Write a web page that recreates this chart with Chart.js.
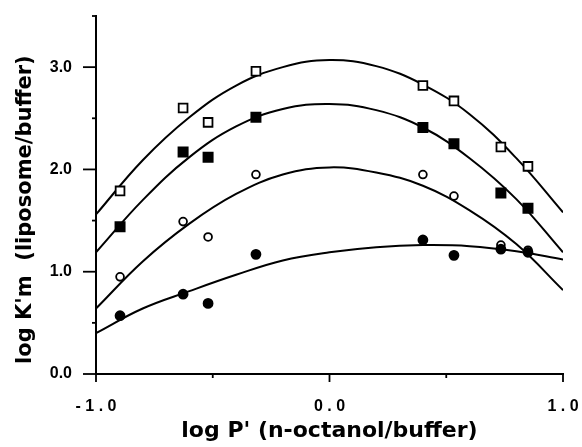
<!DOCTYPE html>
<html>
<head>
<meta charset="utf-8">
<script src="https://cdn.jsdelivr.net/npm/chart.js@4"></script>
<style>
  html, body { margin: 0; padding: 0; background: #fff; }
  #wrap { width: 582px; height: 447px; }
</style>
</head>
<body>
<div id="wrap"><canvas id="js--chart"></canvas></div>
<script>
// measured points (log P', log K'm)
const pointX = [-0.897, -0.627, -0.520, -0.315, 0.400, 0.533, 0.734, 0.850];
const openSquares = [1.79, 2.60, 2.46, 2.96, 2.82, 2.67, 2.22, 2.03];
const filledSquares = [1.44, 2.17, 2.12, 2.51, 2.41, 2.25, 1.77, 1.62];
const openCircles = [0.95, 1.49, 1.34, 1.95, 1.95, 1.74, 1.26, 1.21];
const filledCircles = [0.57, 0.78, 0.69, 1.17, 1.31, 1.16, 1.22, 1.19];

// fitted curves
const curveX = [-1.0, -0.8, -0.6, -0.4, -0.2, 0.0, 0.2, 0.4, 0.6, 0.8, 1.0];
const curveOpenSq = [1.56, 2.09, 2.51, 2.82, 3.00, 3.07, 3.01, 2.83, 2.54, 2.11, 1.58];
const curveFilledSq = [1.19, 1.70, 2.12, 2.42, 2.59, 2.64, 2.58, 2.41, 2.11, 1.71, 1.19];
const curveOpenCirc = [0.64, 1.10, 1.47, 1.76, 1.95, 2.02, 1.97, 1.84, 1.60, 1.27, 0.82];
const curveFilledCirc = [0.40, 0.64, 0.81, 0.97, 1.11, 1.19, 1.24, 1.26, 1.25, 1.20, 1.12];

const xLabels = [-1.0, 0.0, 1.0];
const yLabels = [0.0, 1.0, 2.0, 3.0];

function pairs(xs, ys) {
    return xs.map((x, i) => ({x: x, y: ys[i]}));
}

function pointSet(ys, style, radius, fill) {
    return {
        data: pairs(pointX, ys),
        showLine: false,
        pointStyle: style,
        pointRadius: radius,
        pointBackgroundColor: fill,
        pointBorderColor: "#000",
        pointBorderWidth: 1.8,
    };
}

function curveSet(ys) {
    return {
        data: pairs(curveX, ys),
        showLine: true,
        pointRadius: 0,
        borderColor: "#000",
        borderWidth: 2,
        tension: 0.4,
        fill: false,
    };
}

// tick marks: long at labelled values, short in between
const tickMarks = {
    id: "tickMarks",
    afterDraw(chart) {
        const ctx = chart.ctx;
        const xs = chart.scales.x;
        const ys = chart.scales.y;
        ctx.save();
        ctx.strokeStyle = "#000";
        ctx.lineWidth = 1.8;
        xs.ticks.forEach((t, i) => {
            const px = xs.getPixelForTick(i);
            const len = xLabels.includes(t.value) ? 8 : 4;
            ctx.beginPath();
            ctx.moveTo(px, xs.top);
            ctx.lineTo(px, xs.top + len);
            ctx.stroke();
        });
        ys.ticks.forEach((t, i) => {
            const py = ys.getPixelForTick(i);
            const len = yLabels.includes(t.value) ? 13 : 4;
            ctx.beginPath();
            ctx.moveTo(ys.right, py);
            ctx.lineTo(ys.right - len, py);
            ctx.stroke();
        });
        ctx.restore();
    }
};

const config = {
    type: "scatter",
    data: {
        datasets: [
            pointSet(filledCircles, "circle", 4.5, "#000"),
            pointSet(openCircles, "circle", 3.9, "#fff"),
            pointSet(filledSquares, "rect", 6.5, "#000"),
            pointSet(openSquares, "rect", 6.2, "#fff"),
            curveSet(curveOpenSq),
            curveSet(curveFilledSq),
            curveSet(curveOpenCirc),
            curveSet(curveFilledCirc),
        ]
    },
    options: {
        responsive: false,
        animation: false,
        layout: { padding: { top: 16, right: 19, left: 0, bottom: 0 } },
        plugins: {
            legend: { display: false },
            tooltip: { enabled: false },
        },
        scales: {
            x: {
                type: "linear",
                min: -1,
                max: 1,
                grid: { display: false },
                border: { display: true, color: "#000", width: 2 },
                ticks: {
                    stepSize: 0.5,
                    padding: 15,
                    maxRotation: 0,
                    color: "#000",
                    font: { family: "Liberation Sans", weight: "bold", size: 16 },
                    callback: v => xLabels.includes(v) ? v.toFixed(1).split("").join(" ") : "",
                },
                title: {
                    display: true,
                    text: "log P' (n-octanol/buffer)",
                    color: "#000",
                    font: { family: "DejaVu Sans", weight: "bold", size: 22 },
                    padding: { top: 0, bottom: 3 },
                },
                afterFit: s => {
                    s.height = 73;
                    s.paddingLeft = 0;
                    s.paddingRight = 0;
                },
            },
            y: {
                type: "linear",
                min: 0,
                max: 3.5,
                grid: { display: false },
                border: { display: true, color: "#000", width: 2 },
                ticks: {
                    stepSize: 0.5,
                    padding: 16,
                    color: "#000",
                    font: { family: "Liberation Sans", weight: "bold", size: 16 },
                    callback: v => yLabels.includes(v) ? v.toFixed(1) : "",
                },
                title: {
                    display: true,
                    text: "log K'm  (liposome/buffer)    ",
                    color: "#000",
                    font: { family: "DejaVu Sans", weight: "bold", size: 21 },
                    padding: { top: 13, bottom: 0 },
                },
                afterFit: s => {
                    s.width = 96;
                    s.paddingTop = 0;
                    s.paddingBottom = 0;
                },
            },
        },
    },
    plugins: [tickMarks],
};

const canvas = document.getElementById("js--chart");
canvas.width = 582;
canvas.height = 447;
const chart1 = new Chart(canvas, config);
</script>
</body>
</html>
